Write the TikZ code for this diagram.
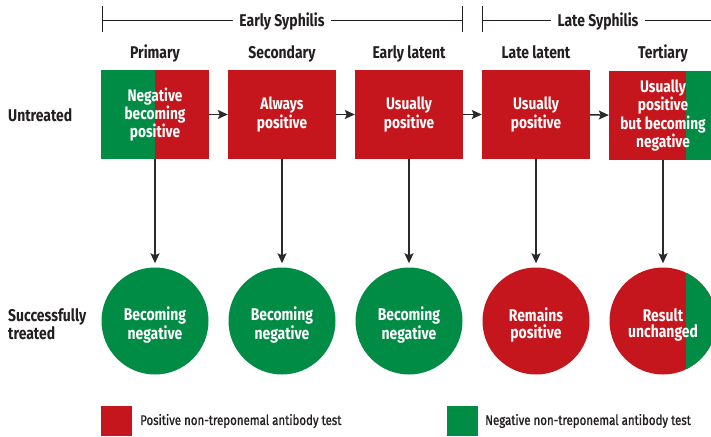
\documentclass[tikz,border=0pt]{standalone}
\usepackage{fontspec}
\setmainfont{Fira Sans}[FakeStretch=0.82]
\usetikzlibrary{arrows.meta}
\definecolor{pred}{HTML}{C4161C}
\definecolor{pgreen}{HTML}{008C44}
\definecolor{ink}{HTML}{231F20}
\definecolor{arrowc}{HTML}{2A2A2A}
\begin{document}
\begin{tikzpicture}[x=1pt,y=-1pt,
  stagebox/.style={rectangle, fill=pred, minimum width=108pt, minimum height=89pt, inner sep=0pt, text=white, font=\bfseries\fontsize{16.7}{16.7}\selectfont, align=center},
  resultdisc/.style={circle, minimum size=107pt, inner sep=0pt},
  disctext/.style={text=white, font=\bfseries\fontsize{17}{16.5}\selectfont, align=center, yshift=-4pt},
  collabel/.style={text=ink, font=\bfseries\fontsize{17}{17}\selectfont, inner sep=0pt, anchor=base},
  rowlabel/.style={text=ink, font=\bfseries\fontsize{17}{18}\selectfont, inner sep=0pt, anchor=west, align=left},
  hdr/.style={text=ink, font=\bfseries\fontsize{17}{17}\selectfont, inner xsep=6pt, inner ysep=0pt},
  bracket/.style={draw=ink, line width=1pt},
  arr/.style={draw=arrowc, line width=1.5pt, -{Stealth[length=10pt,width=9pt,inset=2pt]}},
  legsq/.style={rectangle, minimum width=31pt, minimum height=30pt, inner sep=0pt},
  legtext/.style={text=ink, font=\fontsize{14}{16}\selectfont\addfontfeature{FakeBold=1.2}, anchor=west, inner sep=0pt}
]
\useasboundingbox (0,0) rectangle (711,436);
\clip (0,0) rectangle (711,436);

% headers
\node[hdr] (early) at (282,21) {Early Syphilis};
\node[hdr] (late) at (598,21) {Late Syphilis};
\coordinate (eL) at (102,21);
\coordinate (eR) at (462,21);
\coordinate (lL) at (482,21);
\coordinate (lR) at (712,21);
\draw[bracket] (eL) -- (early.west);
\draw[bracket] (early.east) -- (eR);
\draw[bracket] (lL) -- (late.west);
\draw[bracket] (late.east) -- (lR);
\draw[bracket] (102,6) -- (102,32);
\draw[bracket] (462,6) -- (462,32);
\draw[bracket] (482,6) -- (482,32);

% column labels
\node[collabel] (l1) at (155,59) {Primary};
\node[collabel] (l2) at (282,59) {Secondary};
\node[collabel] (l3) at (409,59) {Early latent};
\node[collabel] (l4) at (536,59) {Late latent};
\node[collabel] (l5) at (663,59) {Tertiary};

% row labels
\node[rowlabel] (untreated) at (8,115) {Untreated};
\node[rowlabel] (treated) at (8,324) {Successfully\\treated};

% top row boxes
\node[stagebox, path picture={\fill[pgreen] (path picture bounding box.south west) rectangle (path picture bounding box.north);}] (b1) at (155,114.5) {Negative\\becoming\\positive};
\node[stagebox] (b2) at (282,114.5) {Always\\positive};
\node[stagebox] (b3) at (409,114.5) {Usually\\positive};
\node[stagebox] (b4) at (536,114.5) {Usually\\positive};
\node[stagebox, path picture={\fill[pgreen] ([xshift=77pt]path picture bounding box.south west) rectangle (path picture bounding box.north east);}] (b5) at (663,115.5) {Usually\\positive\\but becoming\\negative};

% bottom row discs
\node[resultdisc, fill=pgreen, label={[disctext]center:{Becoming\\negative}}] (c1) at (155,321) {};
\node[resultdisc, fill=pgreen, label={[disctext]center:{Becoming\\negative}}] (c2) at (282,321) {};
\node[resultdisc, fill=pgreen, label={[disctext]center:{Becoming\\negative}}] (c3) at (409,321) {};
\node[resultdisc, fill=pred, label={[disctext]center:{Remains\\positive}}] (c4) at (536,321) {};
\node[resultdisc, fill=pred, path picture={\fill[pgreen] ([xshift=76.5pt]path picture bounding box.south west) rectangle (path picture bounding box.north east);}, label={[disctext]center:{Result\\unchanged}}] (c5) at (663,321) {};

% arrows
\draw[arr] (b1) -- (b2);
\draw[arr] (b2) -- (b3);
\draw[arr] (b3) -- (b4);
\draw[arr] (b4) -- (b5);
\foreach \i in {1,...,5} {
  \draw[arr, shorten >=4pt] (b\i) -- (c\i);
}

% legend
\node[legsq, fill=pred] (sqpos) at (116.5,421) {};
\node[legtext] (tpos) at (140,421) {Positive non-treponemal antibody test};
\node[legsq, fill=pgreen] (sqneg) at (462.5,421) {};
\node[legtext] (tneg) at (485,421) {Negative non-treponemal antibody test};
\end{tikzpicture}
\end{document}
